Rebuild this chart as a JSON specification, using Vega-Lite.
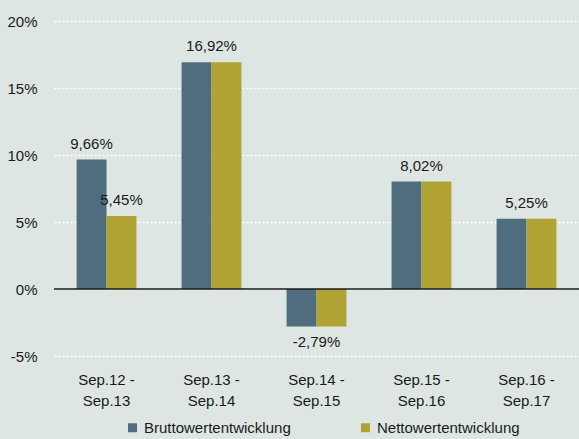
{
  "$schema": "https://vega.github.io/schema/vega-lite/v6.json",
  "width": 525,
  "height": 335,
  "autosize": {"type": "none"},
  "padding": {"left": 54, "top": 21, "right": 0, "bottom": 83},
  "background": "#dde6e3",
  "config": {
    "view": {"stroke": null},
    "font": "Liberation Sans",
    "text": {"font": "Liberation Sans", "fontSize": 15, "color": "#1a1a1a"}
  },
  "datasets": {
    "bars": [
      {"period": "Sep.12 - Sep.13", "series": "Bruttowertentwicklung", "value": 9.66},
      {"period": "Sep.12 - Sep.13", "series": "Nettowertentwicklung", "value": 5.45},
      {"period": "Sep.13 - Sep.14", "series": "Bruttowertentwicklung", "value": 16.92},
      {"period": "Sep.13 - Sep.14", "series": "Nettowertentwicklung", "value": 16.92},
      {"period": "Sep.14 - Sep.15", "series": "Bruttowertentwicklung", "value": -2.79},
      {"period": "Sep.14 - Sep.15", "series": "Nettowertentwicklung", "value": -2.79},
      {"period": "Sep.15 - Sep.16", "series": "Bruttowertentwicklung", "value": 8.02},
      {"period": "Sep.15 - Sep.16", "series": "Nettowertentwicklung", "value": 8.02},
      {"period": "Sep.16 - Sep.17", "series": "Bruttowertentwicklung", "value": 5.25},
      {"period": "Sep.16 - Sep.17", "series": "Nettowertentwicklung", "value": 5.25}
    ],
    "pairLabels": [
      {"period": "Sep.12 - Sep.13", "series": "Bruttowertentwicklung", "value": 9.66, "label": "9,66%"},
      {"period": "Sep.12 - Sep.13", "series": "Nettowertentwicklung", "value": 5.45, "label": "5,45%"}
    ],
    "centerLabels": [
      {"period": "Sep.13 - Sep.14", "value": 16.92, "label": "16,92%"},
      {"period": "Sep.15 - Sep.16", "value": 8.02, "label": "8,02%"},
      {"period": "Sep.16 - Sep.17", "value": 5.25, "label": "5,25%"}
    ],
    "negLabels": [
      {"period": "Sep.14 - Sep.15", "value": -2.79, "label": "-2,79%"}
    ],
    "zero": [{"value": 0}]
  },
  "encoding": {
    "y": {
      "field": "value", "type": "quantitative",
      "scale": {"domain": [-5, 20], "nice": false, "zero": false},
      "axis": {
        "title": null, "values": [-5, 0, 5, 10, 15, 20], "ticks": false, "domain": false,
        "labelFont": "Liberation Sans", "labelFontSize": 15, "labelColor": "#1a1a1a",
        "labelPadding": 17, "labelExpr": "datum.value + '%'",
        "grid": true, "gridColor": "#ffffff", "gridDash": [2, 2], "gridWidth": 1.5
      }
    }
  },
  "layer": [
    {
      "data": {"name": "bars"},
      "mark": {"type": "bar"},
      "encoding": {
        "x": {
          "field": "period", "type": "nominal", "sort": null,
          "scale": {"paddingInner": 0.43, "paddingOuter": 0.215},
          "axis": {
            "title": null, "labelAngle": 0, "ticks": false, "domain": false,
            "labelFont": "Liberation Sans", "labelFontSize": 15, "labelColor": "#1a1a1a",
            "labelPadding": 16, "labelLineHeight": 21,
            "labelExpr": "[slice(datum.label, 0, 8), slice(datum.label, 9)]"
          }
        },
        "xOffset": {"field": "series", "type": "nominal", "sort": null, "scale": {"paddingInner": 0}},
        "color": {
          "field": "series", "type": "nominal",
          "scale": {"domain": ["Bruttowertentwicklung", "Nettowertentwicklung"], "range": ["#4f6d7f", "#b0a333"]},
          "legend": {
            "title": null, "orient": "none", "direction": "horizontal",
            "legendX": 71, "legendY": 399, "padding": 0,
            "symbolType": "square", "symbolSize": 81, "symbolStrokeWidth": 0,
            "labelFont": "Liberation Sans", "labelFontSize": 15, "labelColor": "#1a1a1a",
            "labelOffset": 4, "columnPadding": 67, "labelLimit": 300
          }
        }
      }
    },
    {
      "data": {"name": "zero"},
      "mark": {"type": "rule", "color": "#1a1a1a", "strokeWidth": 1.5},
      "encoding": {}
    },
    {
      "data": {"name": "pairLabels"},
      "mark": {"type": "text", "baseline": "alphabetic", "dy": -11},
      "encoding": {
        "x": {"field": "period", "type": "nominal", "sort": null},
        "xOffset": {"field": "series", "type": "nominal", "sort": null},
        "text": {"field": "label"}
      }
    },
    {
      "data": {"name": "centerLabels"},
      "mark": {"type": "text", "baseline": "alphabetic", "dy": -11},
      "encoding": {
        "x": {"field": "period", "type": "nominal", "sort": null},
        "text": {"field": "label"}
      }
    },
    {
      "data": {"name": "negLabels"},
      "mark": {"type": "text", "baseline": "top", "dy": 9},
      "encoding": {
        "x": {"field": "period", "type": "nominal", "sort": null},
        "text": {"field": "label"}
      }
    }
  ]
}
